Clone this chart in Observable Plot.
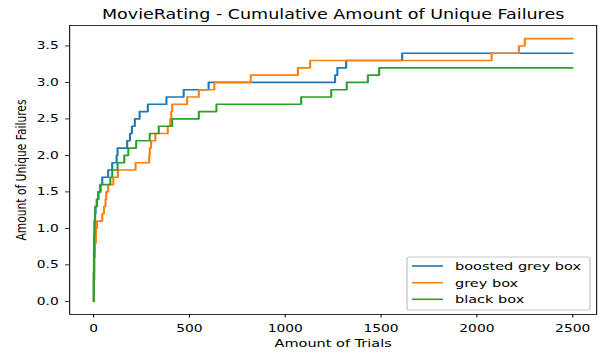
<!DOCTYPE html>
<html>
<head>
<meta charset="utf-8">
<script src="https://cdn.jsdelivr.net/npm/d3@7"></script>
<script src="https://cdn.jsdelivr.net/npm/@observablehq/plot@0.6"></script>
<style>
  html, body { margin: 0; padding: 0; background: white; }
  #chart { width: 600px; height: 354px; overflow: hidden; }
</style>
</head>
<body>
<div id="chart"></div>
<script>
// ---- data ----
const seriesNames = ["boosted grey box", "grey box", "black box"];
const seriesColors = ["#1f77b4", "#ff7f0e", "#2ca02c"];

const boostedTrials   = [0, 1, 2, 3, 5, 7, 10, 18, 25, 35, 45, 76, 97, 120, 125, 175, 190, 200, 215, 240, 283, 380, 470, 600, 1260, 1272, 1318, 1610, 2500];
const boostedFailures = [0, 0.4, 0.7, 0.9, 1.1, 1.2, 1.3, 1.4, 1.5, 1.6, 1.7, 1.8, 1.9, 2.0, 2.1, 2.2, 2.3, 2.4, 2.5, 2.6, 2.7, 2.8, 2.9, 3.0, 3.1, 3.2, 3.3, 3.4, 3.4];

const greyTrials   = [0, 2, 4, 7, 12, 18, 45, 54, 62, 66, 76, 103, 127, 219, 290, 293, 300, 322, 387, 400, 405, 410, 488, 549, 630, 820, 1066, 1130, 2077, 2219, 2250, 2500];
const greyFailures = [0, 0.3, 0.6, 0.8, 1.0, 1.1, 1.2, 1.3, 1.4, 1.5, 1.6, 1.7, 1.8, 1.9, 2.0, 2.1, 2.2, 2.3, 2.4, 2.5, 2.6, 2.7, 2.8, 2.9, 3.0, 3.1, 3.2, 3.3, 3.4, 3.5, 3.6, 3.6];

const blackTrials   = [0, 1, 2, 3, 5, 8, 16, 24, 36, 87, 97, 125, 160, 181, 222, 293, 340, 410, 549, 641, 1083, 1240, 1321, 1431, 1490, 2500];
const blackFailures = [0, 0.4, 0.7, 0.9, 1.1, 1.3, 1.4, 1.5, 1.6, 1.7, 1.8, 1.9, 2.0, 2.1, 2.2, 2.3, 2.4, 2.5, 2.6, 2.7, 2.8, 2.9, 3.0, 3.1, 3.2, 3.2];

const xTicks = [0, 500, 1000, 1500, 2000, 2500];
const yTicks = [0.0, 0.5, 1.0, 1.5, 2.0, 2.5, 3.0, 3.5];

const titleText = "MovieRating - Cumulative Amount of Unique Failures";
const xLabel = "Amount of Trials";
const yLabel = "Amount of Unique Failures";

// ---- build table ----
const allTrials = [boostedTrials, greyTrials, blackTrials];
const allFailures = [boostedFailures, greyFailures, blackFailures];
const rows = seriesNames.flatMap((name, s) =>
  allTrials[s].map((t, i) => ({series: name, trial: t, failures: allFailures[s][i]})));

// The reference figure is horizontally stretched; draw at a narrower
// internal width and stretch the SVG to 600px.
const W = 455, H = 354, OUT_W = 600;
const f = OUT_W / W;

const svg = Plot.plot({
  width: W,
  height: H,
  marginLeft: 69 / f,
  marginRight: 4 / f,
  marginTop: 25,
  marginBottom: 40,
  style: {fontFamily: "DejaVu Sans", fontSize: "10.5px", color: "black", background: "white"},
  x: {domain: [-125, 2625]},
  y: {domain: [-0.18, 3.78]},
  color: {domain: seriesNames, range: seriesColors},
  marks: [
    Plot.line(rows, {x: "trial", y: "failures", z: "series", stroke: "series", curve: "step-after", strokeWidth: 1.6}),
    Plot.frame({stroke: "black", strokeWidth: 0.8}),
    Plot.axisX({ticks: xTicks, tickSize: 3.5, tickPadding: 7, tickFormat: d => String(d), label: null, strokeWidth: 0.8}),
    Plot.axisY({ticks: yTicks, tickSize: 3, tickPadding: 5.3, tickFormat: d3.format(".1f"), label: null, strokeWidth: 0.8}),
    Plot.text([titleText], {text: d => d, frameAnchor: "top", lineAnchor: "top", dy: -15.8, fontSize: 13.3}),
    Plot.text([xLabel], {text: d => d, frameAnchor: "bottom", lineAnchor: "top", dy: 24.2, fontSize: 11}),
    Plot.text([yLabel], {text: d => d, frameAnchor: "left", textAnchor: "middle", rotate: -90, lineAnchor: "middle", dx: 16 - 69 / f, fontSize: 10.7})
  ]
});

// ---- legend (decoration, internal coordinates) ----
const g = d3.select(svg).append("g")
  .attr("font-family", "DejaVu Sans").attr("font-size", 11)
  .attr("text-anchor", "start");
g.append("rect")
  .attr("x", 407 / f).attr("y", 257)
  .attr("width", (590 - 407) / f).attr("height", 53)
  .attr("rx", 2).attr("fill", "white").attr("fill-opacity", 0.8)
  .attr("stroke", "#c8c8c8").attr("stroke-width", 1);
const rowY = [266, 282.7, 299.3];
seriesNames.forEach((name, i) => {
  g.append("line")
    .attr("x1", 412 / f).attr("x2", 443 / f)
    .attr("y1", rowY[i]).attr("y2", rowY[i])
    .attr("stroke", seriesColors[i]).attr("stroke-width", 1.6);
  g.append("text")
    .attr("x", 455 / f).attr("y", rowY[i]).attr("dy", "0.35em")
    .attr("text-anchor", "start")
    .attr("fill", "black").text(name);
});

svg.setAttribute("viewBox", `0 0 ${W} ${H}`);
svg.setAttribute("width", OUT_W);
svg.setAttribute("height", H);
svg.setAttribute("preserveAspectRatio", "none");
svg.style.width = OUT_W + "px";
svg.style.height = H + "px";
svg.style.maxWidth = "none";
document.getElementById("chart").appendChild(svg);
</script>
</body>
</html>
